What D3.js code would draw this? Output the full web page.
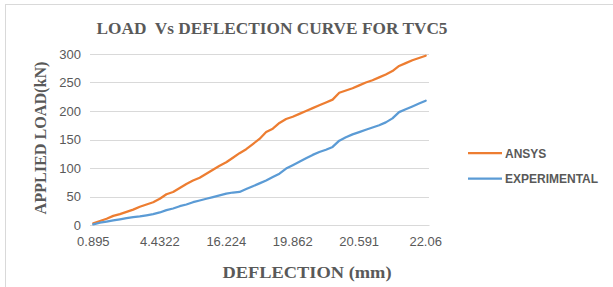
<!DOCTYPE html>
<html>
<head>
<meta charset="utf-8">
<script src="https://cdn.jsdelivr.net/npm/d3@7"></script>
<style>
  body { margin: 0; background: #fff; }
  svg { display: block; }
</style>
</head>
<body>
<div id="chart"></div>
<script>
'use strict';

// tick labels shown on the category axis, one every 10 points
const tickLabels = ['0.895', '4.4322', '16.224', '19.862', '20.591', '22.06'];
const tickEvery = 10;

const ansys = [3, 7, 11, 16, 19, 23, 27, 32, 36, 40,
  46, 54, 58, 65, 72, 78, 83, 90, 97, 104,
  110, 118, 126, 133, 142, 151, 163, 169, 179, 186,
  190, 195, 200, 205, 210, 215, 220, 232, 236, 240,
  245, 250, 254, 259, 264, 270, 279, 284, 289, 293, 297];

const experimental = [1, 4, 6, 8, 10, 12, 14, 15, 17, 19,
  22, 26, 29, 33, 36, 40, 43, 46, 49, 52,
  55, 57, 58, 63, 68, 73, 78, 84, 90, 99,
  105, 111, 117, 123, 128, 132, 137, 148, 154, 159,
  163, 167, 171, 175, 180, 187, 198, 203, 208, 213, 218];

const seriesNames = ['ANSYS', 'EXPERIMENTAL'];
const seriesColors = ['#ED7D31', '#5B9BD5'];
const yTicks = [0, 50, 100, 150, 200, 250, 300];

const width = 613, height = 287;
const margin = { top: 54, right: 184, bottom: 62, left: 90 };
const plotW = width - margin.left - margin.right;
const plotH = height - margin.top - margin.bottom;

const svg = d3.select('#chart').append('svg')
  .attr('width', width)
  .attr('height', height);

// chart area border
svg.append('rect')
  .attr('x', 5.5).attr('y', 4.5)
  .attr('width', 620).attr('height', 300)
  .attr('fill', 'none')
  .attr('stroke', '#d9d9d9');

const plot = svg.append('g')
  .attr('transform', `translate(${margin.left}, ${margin.top})`);

const x = d3.scaleBand()
  .domain(d3.range(ansys.length))
  .range([0, plotW]);

const y = d3.scaleLinear()
  .domain([0, 300])
  .range([plotH, 0]);

// gridlines
plot.append('g')
  .selectAll('line')
  .data(yTicks)
  .enter().append('line')
    .attr('x1', 0)
    .attr('x2', plotW)
    .attr('y1', (d) => Math.round(y(d)) + 0.5)
    .attr('y2', (d) => Math.round(y(d)) + 0.5)
    .attr('stroke', '#d9d9d9')
    .attr('stroke-width', 1);

// y axis
const yAxis = plot.append('g')
  .call(d3.axisLeft(y).tickValues(yTicks).tickSize(0).tickPadding(9));
yAxis.select('.domain').remove();
yAxis.selectAll('text')
  .attr('fill', '#595959')
  .style('font', '13px "Liberation Sans", Arial, sans-serif');

// x axis (category, labelled every 10th point)
const xAxis = plot.append('g')
  .attr('transform', `translate(0, ${plotH})`)
  .call(d3.axisBottom(x)
    .tickValues(d3.range(0, ansys.length, tickEvery))
    .tickFormat((d) => tickLabels[d / tickEvery])
    .tickSize(0)
    .tickPadding(12));
xAxis.select('.domain')
  .attr('stroke', '#d9d9d9');
xAxis.selectAll('text')
  .attr('fill', '#595959')
  .style('font', '13px "Liberation Sans", Arial, sans-serif');

// lines
const line = d3.line()
  .x((d, i) => x(i) + x.bandwidth() / 2)
  .y((d) => y(d));

[ansys, experimental].forEach((values, k) => {
  plot.append('path')
    .datum(values)
    .attr('fill', 'none')
    .attr('stroke', seriesColors[k])
    .attr('stroke-width', 2.25)
    .attr('stroke-linejoin', 'round')
    .attr('stroke-linecap', 'round')
    .attr('d', line);
});

// title
svg.append('text')
  .attr('x', 272)
  .attr('y', 34)
  .attr('text-anchor', 'middle')
  .attr('fill', '#595959')
  .attr('textLength', 351)
  .attr('lengthAdjust', 'spacingAndGlyphs')
  .style('white-space', 'pre')
  .style('font', 'bold 17px "Liberation Serif", "Times New Roman", serif')
  .text('LOAD  Vs DEFLECTION CURVE FOR TVC5');

// axis titles
svg.append('text')
  .attr('transform', 'translate(46, 138) rotate(-90)')
  .attr('text-anchor', 'middle')
  .attr('fill', '#595959')
  .attr('textLength', 153)
  .attr('lengthAdjust', 'spacingAndGlyphs')
  .style('font', 'bold 17px "Liberation Serif", "Times New Roman", serif')
  .text('APPLIED LOAD(kN)');

svg.append('text')
  .attr('x', 307)
  .attr('y', 278)
  .attr('text-anchor', 'middle')
  .attr('fill', '#595959')
  .attr('textLength', 169)
  .attr('lengthAdjust', 'spacingAndGlyphs')
  .style('font', 'bold 16px "Liberation Serif", "Times New Roman", serif')
  .text('DEFLECTION (mm)');

// legend
const legend = svg.append('g')
  .attr('transform', 'translate(468, 153)');

const items = legend.selectAll('g')
  .data(seriesNames)
  .enter().append('g')
    .attr('transform', (d, i) => `translate(0, ${i * 25.5})`);

items.append('line')
  .attr('x1', 0).attr('x2', 34)
  .attr('y1', 0).attr('y2', 0)
  .attr('stroke', (d, i) => seriesColors[i])
  .attr('stroke-width', 2.25);

items.append('text')
  .attr('x', 37)
  .attr('y', 4.5)
  .attr('fill', '#595959')
  .style('font', 'bold 12px "Liberation Sans", Arial, sans-serif')
  .text((d) => d);
</script>
</body>
</html>
